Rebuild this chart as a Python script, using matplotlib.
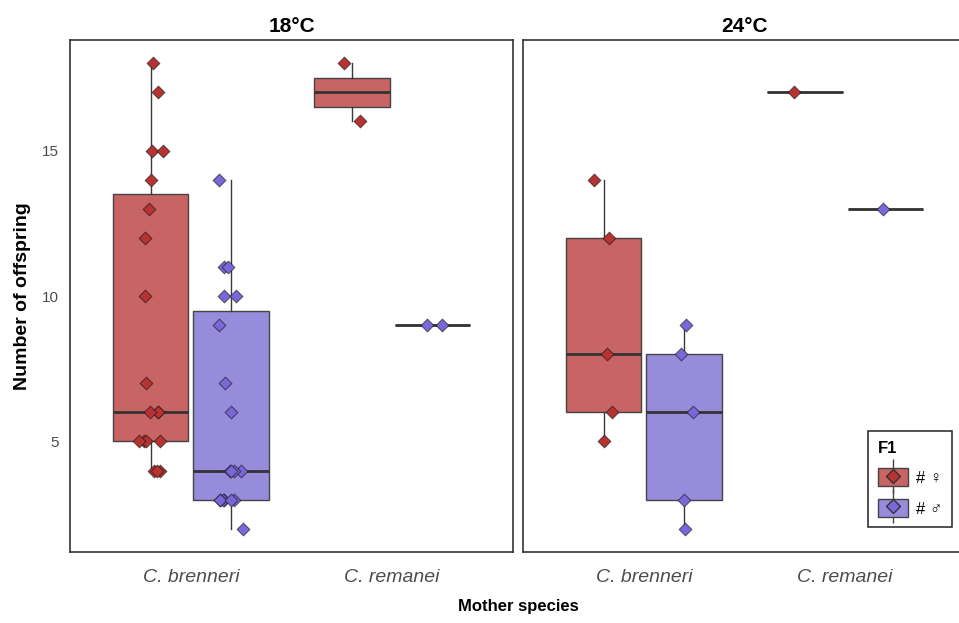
import matplotlib.pyplot as plt
import numpy as np
from matplotlib.patches import Patch
from matplotlib.lines import Line2D
from matplotlib.legend_handler import HandlerTuple

plt.rcParams['font.family'] = ['Liberation Sans', 'DejaVu Sans']

# data
temps = ["18°C", "24°C"]
species = ["C. brenneri", "C. remanei"]
sexes = ["# ♀", "# ♂"]

# offspring counts per temp / species / sex
t18_bren_f = [4, 4, 4, 5, 5, 5, 5, 6, 6, 6, 7, 10, 12, 13, 14, 15, 15, 17, 18]
t18_bren_m = [2, 3, 3, 3, 3, 3, 3, 4, 4, 4, 4, 6, 7, 9, 10, 10, 11, 11, 14]
t18_rem_f = [16, 18]
t18_rem_m = [9, 9]
t24_bren_f = [5, 6, 8, 12, 14]
t24_bren_m = [2, 3, 6, 8, 9]
t24_rem_f = [17]
t24_rem_m = [13]

data = {
    "18°C": [[t18_bren_f, t18_bren_m], [t18_rem_f, t18_rem_m]],
    "24°C": [[t24_bren_f, t24_bren_m], [t24_rem_f, t24_rem_m]],
}

box_fill = ["#C86464", "#978BDC"]
pt_fill = ["#B83232", "#7A68DA"]
edge = "#333333"

W, H = 959, 623
fig = plt.figure(figsize=(W / 100, H / 100), dpi=100)

panel_w = 443
lefts = [70, 523]
rng = np.random.default_rng(7)
dodge = 0.2
bw = 0.375

axes = []
for i, temp in enumerate(temps):
    ax = fig.add_axes([lefts[i] / W, (H - 552) / H, panel_w / W, 512 / H])
    axes.append(ax)
    for j, sp in enumerate(species):
        for k in range(2):
            vals = data[temp][j][k]
            pos = j + 1 + (-dodge if k == 0 else dodge)
            ax.boxplot([vals], positions=[pos], widths=bw, patch_artist=True,
                       showfliers=False, whis=1.5, capwidths=0,
                       boxprops=dict(facecolor=box_fill[k], edgecolor="#444444", linewidth=1.0),
                       medianprops=dict(color=edge, linewidth=2.0),
                       whiskerprops=dict(color="#3a3a3a", linewidth=1.0),
                       capprops=dict(linewidth=0))
            # small horizontal jitter for the points
            jit = rng.uniform(-0.06, 0.06, len(vals))
            ax.scatter(pos + jit, vals, marker="D", s=42, color=pt_fill[k],
                       edgecolor=(0.1, 0.1, 0.1, 0.6), linewidth=0.8, zorder=5)
    ax.set_xlim(0.4, 2.6)
    ax.set_ylim(1.2, 18.8)
    ax.set_xticks([1, 2])
    ax.set_xticklabels(species, fontstyle="italic", fontsize=14, color="#4D4D4D")
    ax.set_yticks([5, 10, 15])
    ax.tick_params(axis="x", length=0, pad=12)
    ax.tick_params(axis="y", length=0, pad=8)
    ax.set_title(temp, fontsize=15, fontweight="bold", pad=6)
    for s in ax.spines.values():
        s.set_color("#333333")
        s.set_linewidth(1.2)
    if i == 0:
        ax.set_yticklabels(["5", "10", "15"], fontsize=11, color="#4D4D4D")
        ax.set_ylabel("Number of offspring", fontsize=14, fontweight="bold", labelpad=8)
    else:
        ax.set_yticklabels([])

fig.text(518 / W, 1 - 607 / H, "Mother species", ha="center", va="center",
         fontsize=12, fontweight="bold")

# legend keys: whisker line + box + point, drawn on top of each other
handles = []
for k in range(2):
    handles.append((Line2D([], [], color="#444444", linewidth=1.0, marker="|",
                           markersize=24, linestyle=""),
                    Patch(facecolor=box_fill[k], edgecolor="#444444"),
                    Line2D([], [], marker="D", linestyle="", markersize=7,
                           markerfacecolor=pt_fill[k], markeredgecolor="#333333")))
leg = axes[1].legend(handles, sexes, handler_map={tuple: HandlerTuple(ndivide=1)},
                     title="F1", loc="lower left", bbox_to_anchor=(868 / W, 1 - 527 / H),
                     bbox_transform=fig.transFigure, borderaxespad=0, frameon=True,
                     fancybox=False, fontsize=12,
                     title_fontproperties={"weight": "bold", "size": 12},
                     handlelength=1.8, handleheight=1.3, handletextpad=0.45,
                     borderpad=0.6, labelspacing=0.75)
leg._legend_box.align = "left"
leg.get_frame().set_edgecolor("black")
leg.get_frame().set_linewidth(1.2)

fig.savefig("out.png", dpi=100)
